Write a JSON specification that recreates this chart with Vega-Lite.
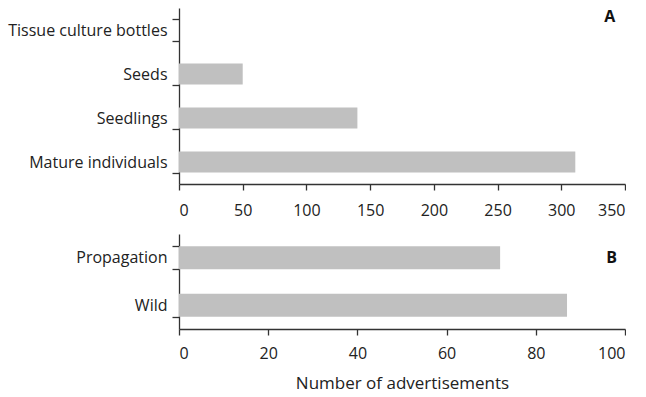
{
  "$schema": "https://vega.github.io/schema/vega-lite/v6.json",
  "background": "white",
  "padding": {"left": 5, "top": 0, "right": 0, "bottom": 5},
  "config": {
    "view": {"stroke": null},
    "font": "Open Sans",
    "axis": {
      "domainColor": "#333333",
      "domainWidth": 1.3,
      "tickColor": "#333333",
      "tickWidth": 1.3,
      "tickSize": 6,
      "labelFontSize": 16,
      "labelColor": "#222222",
      "titleFontSize": 17,
      "titleFontWeight": "normal",
      "titleColor": "#222222",
      "grid": false
    }
  },
  "spacing": 8,
  "columns": 1,
  "align": "none",
  "concat": [
    {
      "width": 446,
      "height": 176,
      "layer": [
        {
          "data": {"values": [
            {"category": "Tissue culture bottles", "count": 0},
            {"category": "Seeds", "count": 50},
            {"category": "Seedlings", "count": 140},
            {"category": "Mature individuals", "count": 311}
          ]},
          "mark": {"type": "bar", "color": "#c0c0c0"},
          "encoding": {
            "y": {"field": "category", "type": "nominal", "sort": null,
              "scale": {"domain": ["Tissue culture bottles", "Seeds", "Seedlings", "Mature individuals"], "paddingInner": 0.52, "paddingOuter": 0.26},
              "axis": {"title": null, "tickBand": "extent", "tickSize": 7, "labelPadding": 5, "minExtent": 168}},
            "x": {"field": "count", "type": "quantitative",
              "scale": {"domain": [0, 350]},
              "axis": {"title": null, "values": [0, 50, 100, 150, 200, 250, 300, 350], "labelPadding": 12}}
          }
        },
        {
          "data": {"values": [{"label": "A", "x": 338, "y": "Tissue culture bottles"}]},
          "mark": {"type": "text", "fontWeight": "bold", "fontSize": 16, "dy": -13, "color": "#111111"},
          "encoding": {
            "x": {"field": "x", "type": "quantitative"},
            "y": {"field": "y", "type": "nominal", "sort": null},
            "text": {"field": "label"}
          }
        }
      ]
    },
    {
      "width": 446,
      "height": 95,
      "layer": [
        {
          "data": {"values": [
            {"category": "Propagation", "count": 72},
            {"category": "Wild", "count": 87}
          ]},
          "mark": {"type": "bar", "color": "#c0c0c0"},
          "encoding": {
            "y": {"field": "category", "type": "nominal", "sort": null,
              "scale": {"domain": ["Propagation", "Wild"], "paddingInner": 0.52, "paddingOuter": 0.26},
              "axis": {"title": null, "tickBand": "extent", "tickSize": 7, "labelPadding": 5, "minExtent": 174}},
            "x": {"field": "count", "type": "quantitative",
              "scale": {"domain": [0, 100]},
              "axis": {"title": "Number of advertisements", "values": [0, 20, 40, 60, 80, 100], "labelPadding": 10, "titlePadding": 14}}
          }
        },
        {
          "data": {"values": [{"label": "B", "x": 97, "y": "Propagation"}]},
          "mark": {"type": "text", "fontWeight": "bold", "fontSize": 16, "color": "#111111"},
          "encoding": {
            "x": {"field": "x", "type": "quantitative"},
            "y": {"field": "y", "type": "nominal", "sort": null},
            "text": {"field": "label"}
          }
        }
      ]
    }
  ]
}
